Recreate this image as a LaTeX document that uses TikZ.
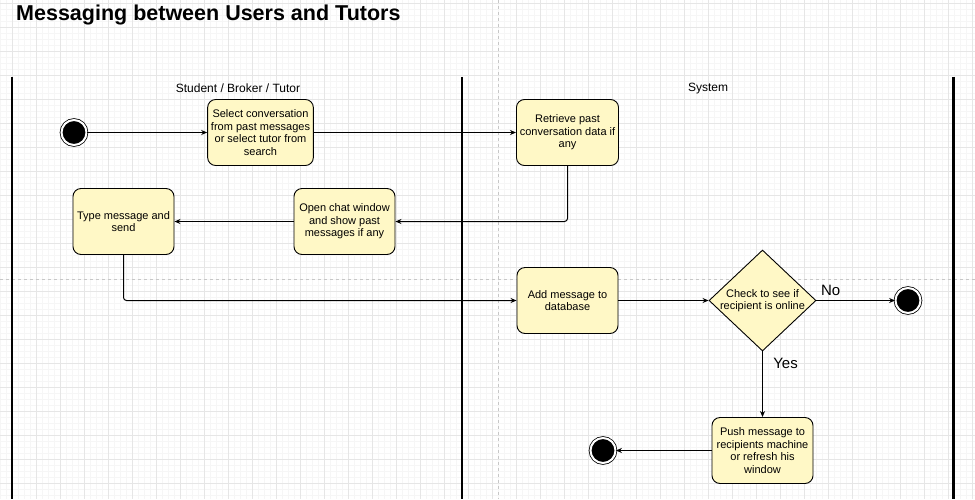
\documentclass[tikz,border=0pt]{standalone}
\usepackage{fontspec}
\setmainfont{Liberation Sans}
\usetikzlibrary{arrows.meta,shapes.geometric,positioning}
\definecolor{actfill}{HTML}{FFF8C6}
\definecolor{gridmaj}{HTML}{E6E6E6}
\definecolor{gridmin}{HTML}{F6F6F6}
\tikzset{
  action/.style={draw, rounded corners=8pt, fill=actfill, line width=0.9pt,
    minimum width=101pt, minimum height=66pt, align=center,
    font=\fontsize{11}{12.5}\selectfont},
  decision/.style={draw, diamond, fill=actfill, line width=0.9pt, inner sep=0pt,
    minimum width=107pt, minimum height=101pt},
  state/.style={circle, fill=black, draw=black, line width=0.8pt, double=white,
    double distance=2pt, minimum size=25pt, inner sep=0pt},
  flow/.style={-{Stealth[length=6pt,width=5pt]}, line width=1pt},
  lane/.style={line width=2.4pt},
  pagebreak/.style={draw=black!22, dashed, line width=0.6pt}
}
\begin{document}
\begin{tikzpicture}[x=1pt, y=-1pt]
  \useasboundingbox (0,0) rectangle (975,499);
  \fill[white] (0,0) rectangle (975,499);
  % background grid
  \foreach \gx in {0,6,...,972} \draw[gridmin, line width=0.5pt] (\gx,0) -- (\gx,499);
  \foreach \gy in {3,9,...,497} \draw[gridmin, line width=0.5pt] (0,\gy) -- (975,\gy);
  \foreach \gx in {12,36,...,972} \draw[gridmaj, line width=0.8pt] (\gx,0) -- (\gx,499);
  \foreach \gy in {3,27,...,497} \draw[gridmaj, line width=0.8pt] (0,\gy) -- (975,\gy);
  % page breaks
  \draw[pagebreak] (498.5,0) -- (498.5,499);
  \draw[pagebreak] (0,279) -- (975,279);
  % title
  \node[anchor=base west, inner sep=0pt, font=\fontsize{21.5}{26}\selectfont\bfseries] (title) at (16,20) {Messaging between Users and Tutors};
  % swimlanes
  \draw[lane] (12,77) -- (12,499);
  \draw[lane] (462,77) -- (462,499);
  \draw[lane] (953.5,77) -- (953.5,499);
  \node[font=\fontsize{12}{14}\selectfont] (userlane) at (238,88.5) {Student / Broker / Tutor};
  \node[font=\fontsize{12}{14}\selectfont] (syslane) at (708,88.5) {System};
  % states
  \node[state] (start) at (74,132.5) {};
  \node[action] (select) at (260.5,132.5) {Select conversation\\from past messages\\or select tutor from\\search};
  \node[action] (retrieve) at (567.5,132.5) {Retrieve past\\conversation data if\\any};
  \node[action] (openchat) at (344.5,221.5) {Open chat window\\and show past\\messages if any};
  \node[action] (typemsg) at (123.5,221.5) {Type message and\\send};
  \node[action] (addmsg) at (567.5,300.5) {Add message to\\database};
  \node[decision] (check) at (762.5,300.5) {};
  \node[align=center, inner sep=0pt, font=\fontsize{11}{12.5}\selectfont] (checktext) at (check) {Check to see if\\recipient is online};
  \node[state] (endright) at (908,300.5) {};
  \node[action] (push) at (762.5,450.5) {Push message to\\recipients machine\\or refresh his\\window};
  \node[state] (endbottom) at (603,450.5) {};
  % connectors
  \draw[flow] (start) -- (select);
  \draw[flow] (select) -- (retrieve);
  \draw[flow, rounded corners=3pt] (retrieve.south) |- (openchat.east);
  \draw[flow] (openchat) -- (typemsg);
  \draw[flow, rounded corners=3pt] (typemsg.south) |- (addmsg.west);
  \draw[flow] (addmsg) -- (check);
  \draw[flow] (check) -- node[pos=0.18, above=1pt, font=\fontsize{15}{17}\selectfont] {No} (endright);
  \draw[flow] (check) -- node[pos=0.18, right=7pt, font=\fontsize{15}{17}\selectfont] {Yes} (push);
  \draw[flow] (push) -- (endbottom);
\end{tikzpicture}
\end{document}
